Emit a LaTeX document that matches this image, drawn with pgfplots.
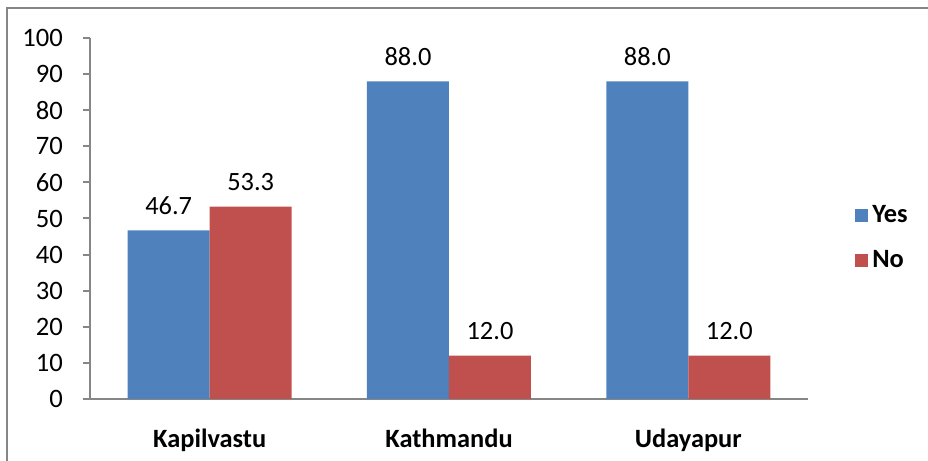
\documentclass[border=0pt]{standalone}
\usepackage{pgfplots}
\pgfplotsset{compat=1.18}
\usepackage{fontspec}
\setmainfont{Carlito}
\definecolor{cblue}{RGB}{79,129,189}
\definecolor{cred}{RGB}{192,80,77}
\definecolor{axgray}{RGB}{134,134,134}
\begin{document}
\begin{tikzpicture}[x=1pt,y=1pt]
\useasboundingbox (0,0) rectangle (464,230.5);
\draw[axgray, line width=1pt] (3.5,0) -- (3.5,226.5) -- (464,226.5);
\begin{axis}[
  at={(45pt,31pt)}, anchor=south west,
  scale only axis, width=359pt, height=180.5pt,
  ybar=0pt, bar width=41pt,
  xmin=-0.5, xmax=2.5, ymin=0, ymax=100,
  axis x line*=bottom, axis y line*=left,
  axis line style={axgray, line width=1pt, -},
  every tick/.style={axgray, line width=1pt},
  tick align=outside,
  major tick length=3.5pt,
  ytick={0,10,...,100},
  xtick={0,1,2},
  xticklabels={Kapilvastu,Kathmandu,Udayapur},
  x tick label style={font=\fontsize{13.2}{15}\selectfont\bfseries, yshift=-8pt},
  y tick label style={font=\fontsize{13.3}{15}\selectfont, xshift=-6.5pt},
  major x tick style={draw=none},
  extra x ticks={-0.5,0.5,1.5,2.5},
  extra x tick labels={},
  extra x tick style={major tick length=3.5pt, tick style={axgray, line width=1pt}},
  /pgf/number format/assume math mode=true,
  nodes near coords,
  nodes near coords style={font=\fontsize{13.2}{15}\selectfont, yshift=4.5pt, /pgf/number format/.cd, fixed, fixed zerofill, precision=1},
  legend style={at={(1.057,0.445)}, anchor=west, draw=none, fill=none,
    font=\fontsize{13.2}{15}\selectfont\bfseries, row sep=8.5pt,
    /tikz/every even column/.append style={column sep=2pt}},
  legend cell align=left,
  legend image code/.code={\fill[#1] (0pt,-3.25pt) rectangle (6.5pt,3.25pt);},
]
\addplot[fill=cblue, draw=none] coordinates {(0,46.7) (1,88.0) (2,88.0)};
\addplot[fill=cred, draw=none] coordinates {(0,53.3) (1,12.0) (2,12.0)};
\legend{Yes,No}
\end{axis}
\end{tikzpicture}
\end{document}
